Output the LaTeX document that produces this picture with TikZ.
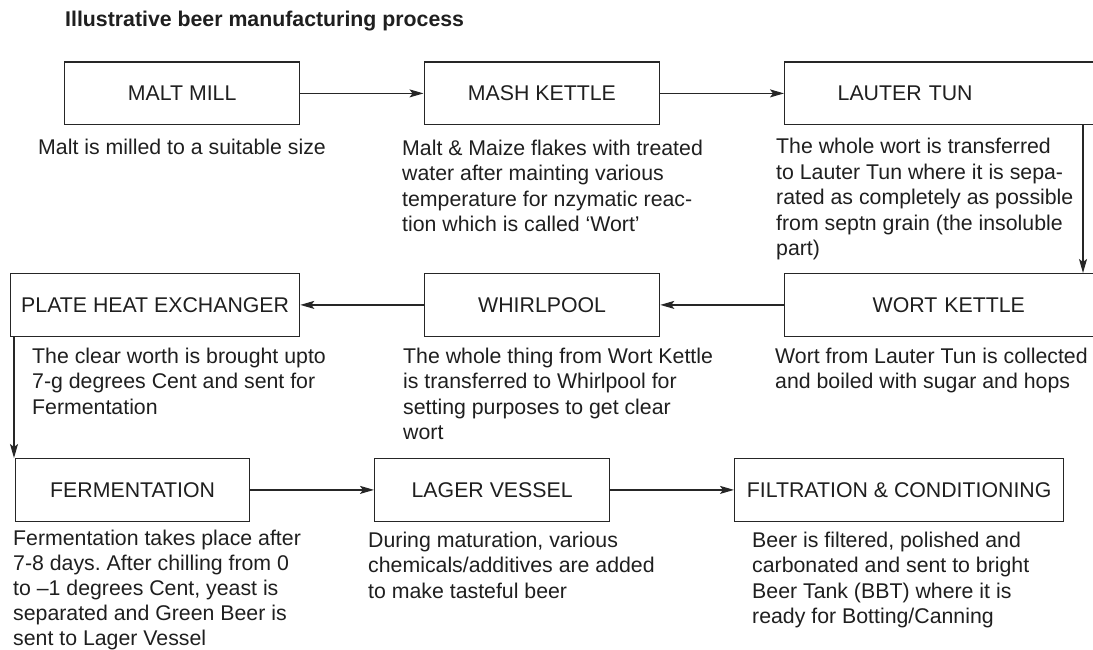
\documentclass[tikz,border=0pt]{standalone}
\usepackage{fontspec}
\setmainfont[Ligatures=CommonOff]{Liberation Sans}
\usetikzlibrary{arrows.meta}
\frenchspacing
\begin{document}
\begin{tikzpicture}[x=1pt,y=-1pt,
  every node/.style={text=black!88},
  stagebox/.style={draw=black!85, line width=1.3pt, anchor=north west,
    minimum height=62.5pt, inner sep=0pt, font=\fontsize{21.3}{25.6}\selectfont},
  note/.style={anchor=base west, align=left, inner sep=0pt,
    font=\fontsize{21.3}{25.6}\selectfont},
  flow/.style={draw=black!85, line width=1.3pt,
    -{Stealth[length=14pt,width=8pt,inset=3pt]}}]
\clip (0,0) rectangle (1093,650);
\fill[white] (0,0) rectangle (1093,650);

% heading
\node[anchor=base west, inner sep=0pt, font=\bfseries\fontsize{21.3}{26}\selectfont]
  (title) at (65,27) {Illustrative beer manufacturing process};

% process stages
\node[stagebox, minimum width=235pt]   (mill)   at (64,61.5)  {MALT MILL};
\node[stagebox, minimum width=235.5pt] (mash)   at (423.5,61.5) {MASH KETTLE};
\node[stagebox, inner xsep=53pt, text width=260pt, align=left] (lauter) at (784,61.5) {LAUTER TUN};
\node[stagebox, inner xsep=88pt, text width=220pt, align=left] (wort)   at (784,273) {WORT KETTLE};
\node[stagebox, minimum width=235pt]   (whirl)  at (424,273)  {WHIRLPOOL};
\node[stagebox, minimum width=289pt]   (phe)    at (10,273)   {PLATE HEAT EXCHANGER};
\node[stagebox, minimum width=234pt]   (ferm)   at (15,458)   {FERMENTATION};
\node[stagebox, minimum width=235pt]   (lager)  at (374,458)  {LAGER VESSEL};
\node[stagebox, minimum width=329pt]   (filt)   at (734,458)  {FILTRATION \& CONDITIONING};

% flow between stages
\coordinate (rx) at (1083,0);
\coordinate (lx) at (14,0);
\draw[flow] (mill.east) -- (mash.west);
\draw[flow] (mash.east) -- (lauter.west);
\draw[flow] (lauter.south -| rx) -- (wort.north -| rx);
\draw[flow] (wort.west) -- (whirl.east);
\draw[flow] (whirl.west) -- (phe.east);
\draw[flow] (phe.south -| lx) -- (ferm.north -| lx);
\draw[flow] (ferm.east) -- (lager.west);
\draw[flow] (lager.east) -- (filt.west);

% stage descriptions (each placed by the baseline of its last line)
\node[note] (d1) at (38,154.5) {Malt is milled to a suitable size};
\node[note] (d2) at (402,231.8) {Malt \& Maize flakes with treated\\water after mainting various\\temperature for nzymatic reac-\\tion which is called ‘Wort’};
\node[note] (d3) at (776,255.9) {The whole wort is transferred\\to Lauter Tun where it is sepa-\\rated as completely as possible\\from septn grain (the insoluble\\part)};
\node[note] (d4) at (32,414.2) {The clear worth is brought upto\\7-g degrees Cent and sent for\\Fermentation};
\node[note] (d5) at (403,439.8) {The whole thing from Wort Kettle\\is transferred to Whirlpool for\\setting purposes to get clear\\wort};
\node[note] (d6) at (775,388.6) {Wort from Lauter Tun is collected\\and boiled with sugar and hops};
\node[note, font=\fontsize{21.3}{25}\selectfont] (d7) at (13,645.5) {Fermentation takes place after\\7-8 days. After chilling from 0\\to –1 degrees Cent, yeast is\\separated and Green Beer is\\sent to Lager Vessel};
\node[note] (d8) at (368,598.2) {During maturation, various\\chemicals/additives are added\\to make tasteful beer};
\node[note] (d9) at (752,623.8) {Beer is filtered, polished and\\carbonated and sent to bright\\Beer Tank (BBT) where it is\\ready for Botting/Canning};
\end{tikzpicture}
\end{document}
